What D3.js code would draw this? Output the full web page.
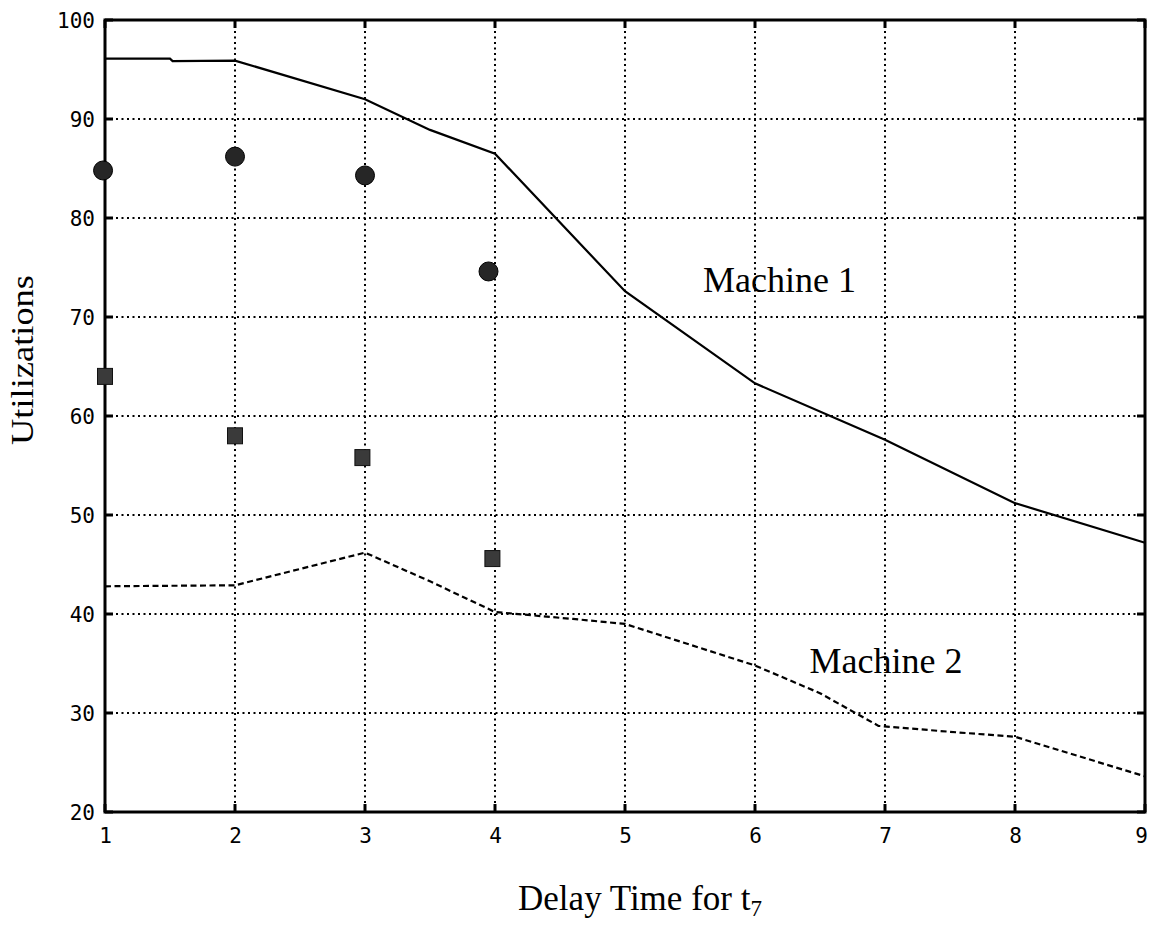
<!DOCTYPE html>
<html>
<head>
<meta charset="utf-8">
<script src="https://cdn.jsdelivr.net/npm/d3@7"></script>
<style>
  body { margin: 0; background: #fff; }
  svg { display: block; }
</style>
</head>
<body>
<div id="chart"></div>
<script>
// Machine 1 (solid curve)
const m1Delay = [1, 1.5, 1.52, 2, 3, 3.5, 4, 5, 6, 7, 8, 9]
const m1Util = [96.1, 96.1, 95.85, 95.9, 92.0, 88.9, 86.5, 72.6, 63.3, 57.6, 51.2, 47.2]

// Machine 2 (dashed curve)
const m2Delay = [1, 2, 3, 3.5, 4, 4.6, 5, 6, 6.5, 6.95, 7.5, 8, 9]
const m2Util = [42.8, 42.9, 46.2, 43.3, 40.2, 39.5, 39.0, 34.8, 32.0, 28.7, 28.1, 27.6, 23.6]

// circles and squares
const circDelay = [0.985, 2.0, 3.0, 3.95]
const circUtil = [84.8, 86.2, 84.3, 74.6]
const sqDelay = [1.0, 2.0, 2.98, 3.98]
const sqUtil = [64.0, 58.0, 55.8, 45.6]

const xTicks = [1, 2, 3, 4, 5, 6, 7, 8, 9]
const yTicks = [20, 30, 40, 50, 60, 70, 80, 90, 100]

const width = 1150
const height = 926
const pLeft = 105, pRight = 1145, pTop = 20, pBottom = 812

let svg = d3.select("#chart")
  .append("svg")
  .attr("width", width)
  .attr("height", height)

let x = d3.scaleLinear().domain([1, 9]).range([pLeft, pRight])
let y = d3.scaleLinear().domain([20, 100]).range([pBottom, pTop])

// dotted grid
let grid = svg.append("g")
  .attr("stroke", "#000")
  .attr("stroke-width", 2)
  .attr("stroke-dasharray", "2,3.5")

grid.selectAll("line.gx")
  .data(xTicks.slice(1, -1))
  .join("line")
  .attr("class", "gx")
  .attr("x1", d => x(d)).attr("x2", d => x(d))
  .attr("y1", pTop).attr("y2", pBottom)

grid.selectAll("line.gy")
  .data(yTicks.slice(1, -1))
  .join("line")
  .attr("class", "gy")
  .attr("y1", d => y(d)).attr("y2", d => y(d))
  .attr("x1", pLeft).attr("x2", pRight)

// axes, labels only
let xAxis = svg.append("g")
  .attr("transform", "translate(0," + pBottom + ")")
  .call(d3.axisBottom(x).tickValues(xTicks).tickSize(0).tickPadding(16).tickFormat(d3.format("d")))
let yAxis = svg.append("g")
  .attr("transform", "translate(" + pLeft + ",0)")
  .call(d3.axisLeft(y).tickValues(yTicks).tickSize(0).tickPadding(10).tickFormat(d3.format("d")))

svg.selectAll(".domain").remove()
svg.selectAll(".tick text")
  .attr("font-family", "'DejaVu Sans Mono', monospace")
  .attr("font-size", 21)
  .attr("fill", "#000")
yAxis.selectAll(".tick text").attr("dy", "0.36em")
// last label sits against the page edge
xAxis.selectAll(".tick text").filter(d => d === 9).attr("dx", -4)

// small inward ticks
let tk = svg.append("g").attr("stroke", "#000").attr("stroke-width", 3)
tk.selectAll("line.tl")
  .data(yTicks)
  .join("line")
  .attr("class", "tl")
  .attr("x1", pLeft).attr("x2", pLeft + 8)
  .attr("y1", d => y(d)).attr("y2", d => y(d))
tk.selectAll("line.tr")
  .data(yTicks)
  .join("line")
  .attr("class", "tr")
  .attr("x1", pRight).attr("x2", pRight - 8)
  .attr("y1", d => y(d)).attr("y2", d => y(d))
tk.selectAll("line.tb")
  .data(xTicks)
  .join("line")
  .attr("class", "tb")
  .attr("x1", d => x(d)).attr("x2", d => x(d))
  .attr("y1", pBottom).attr("y2", pBottom - 8)
tk.selectAll("line.tt")
  .data(xTicks)
  .join("line")
  .attr("class", "tt")
  .attr("x1", d => x(d)).attr("x2", d => x(d))
  .attr("y1", pTop).attr("y2", pTop + 8)

// frame
svg.append("rect")
  .attr("x", pLeft).attr("y", pTop)
  .attr("width", pRight - pLeft).attr("height", pBottom - pTop)
  .attr("fill", "none")
  .attr("stroke", "#000")
  .attr("stroke-width", 3)

let line = d3.line()
  .x(d => x(d[0]))
  .y(d => y(d[1]))

svg.append("path")
  .datum(d3.zip(m1Delay, m1Util))
  .attr("d", line)
  .attr("fill", "none")
  .attr("stroke", "#000")
  .attr("stroke-width", 2.2)

svg.append("path")
  .datum(d3.zip(m2Delay, m2Util))
  .attr("d", line)
  .attr("fill", "none")
  .attr("stroke", "#000")
  .attr("stroke-width", 2.2)
  .attr("stroke-dasharray", "6,3.5")

svg.append("g")
  .selectAll("circle")
  .data(d3.zip(circDelay, circUtil))
  .join("circle")
  .attr("cx", d => x(d[0]))
  .attr("cy", d => y(d[1]))
  .attr("r", 9.5)
  .attr("fill", "#262626")
  .attr("stroke", "#000")
  .attr("stroke-width", 1)

svg.append("g")
  .selectAll("rect")
  .data(d3.zip(sqDelay, sqUtil))
  .join("rect")
  .attr("x", d => x(d[0]) - 7.5)
  .attr("y", d => y(d[1]) - 8)
  .attr("width", 15)
  .attr("height", 16)
  .attr("fill", "#3a3a3a")
  .attr("stroke", "#111")
  .attr("stroke-width", 1)

// curve labels
svg.append("text")
  .attr("x", x(5.6)).attr("y", y(72.5))
  .attr("font-family", "'Liberation Serif', 'Times New Roman', serif")
  .attr("font-size", 36)
  .text("Machine 1")

svg.append("text")
  .attr("x", x(6.42)).attr("y", y(34.0))
  .attr("font-family", "'Liberation Serif', 'Times New Roman', serif")
  .attr("font-size", 36)
  .text("Machine 2")

// axis titles
let xt = svg.append("text")
  .attr("x", 640).attr("y", 910)
  .attr("text-anchor", "middle")
  .attr("font-family", "'Liberation Serif', 'Times New Roman', serif")
  .attr("font-size", 35)
xt.append("tspan").text("Delay Time for t")
xt.append("tspan").attr("font-size", 23).attr("dy", 6).text("7")

svg.append("text")
  .attr("transform", "translate(33,360) rotate(-90)")
  .attr("text-anchor", "middle")
  .attr("font-family", "'Liberation Serif', 'Times New Roman', serif")
  .attr("font-size", 31)
  .attr("textLength", 170)
  .attr("lengthAdjust", "spacingAndGlyphs")
  .text("Utilizations")
</script>
</body>
</html>
